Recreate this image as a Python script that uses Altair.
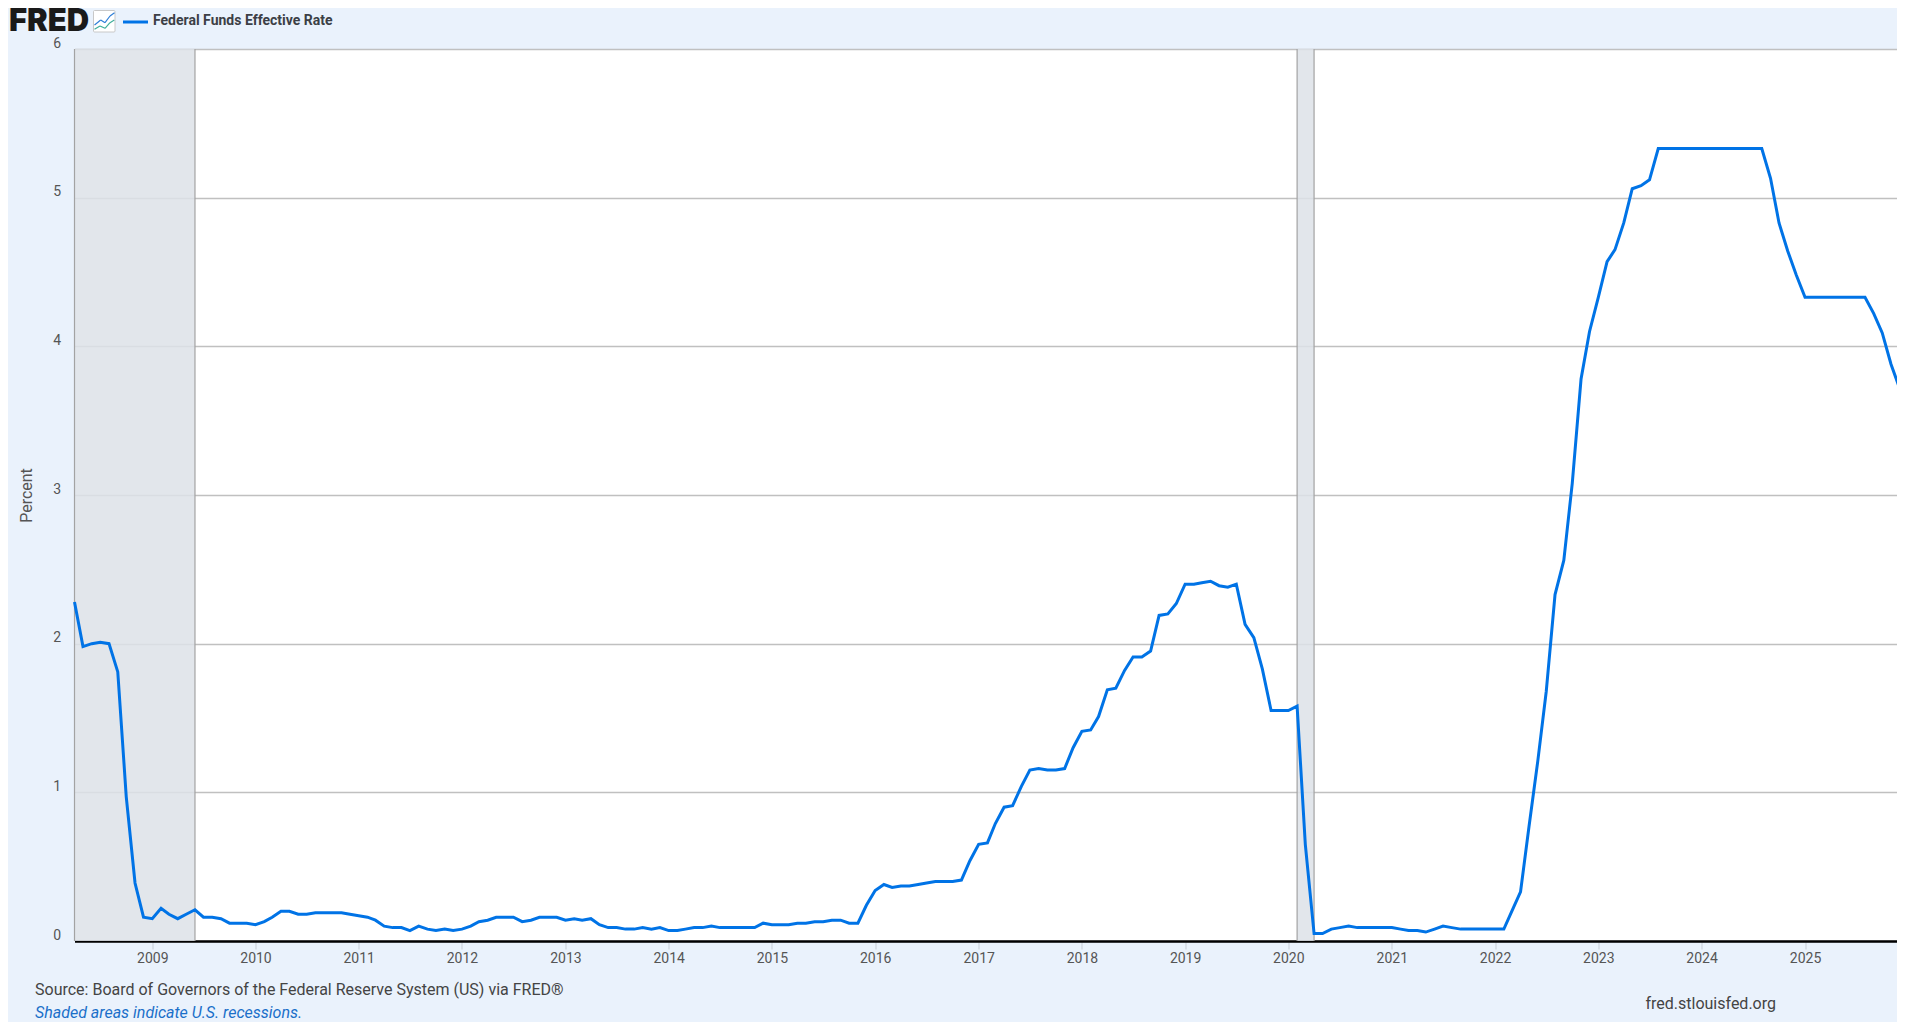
import altair as alt
import pandas as pd

BG = "#eaf2fc"
rates_2008 = [2.28, 1.98, 2.00, 2.01, 2.00, 1.81, 0.97, 0.39, 0.16]
rates_2009 = [0.15, 0.22, 0.18, 0.15, 0.18, 0.21, 0.16, 0.16, 0.15, 0.12, 0.12, 0.12]
rates_2010 = [0.11, 0.13, 0.16, 0.20, 0.20, 0.18, 0.18, 0.19, 0.19, 0.19, 0.19, 0.18]
rates_2011 = [0.17, 0.16, 0.14, 0.10, 0.09, 0.09, 0.07, 0.10, 0.08, 0.07, 0.08, 0.07]
rates_2012 = [0.08, 0.10, 0.13, 0.14, 0.16, 0.16, 0.16, 0.13, 0.14, 0.16, 0.16, 0.16]
rates_2013 = [0.14, 0.15, 0.14, 0.15, 0.11, 0.09, 0.09, 0.08, 0.08, 0.09, 0.08, 0.09]
rates_2014 = [0.07, 0.07, 0.08, 0.09, 0.09, 0.10, 0.09, 0.09, 0.09, 0.09, 0.09, 0.12]
rates_2015 = [0.11, 0.11, 0.11, 0.12, 0.12, 0.13, 0.13, 0.14, 0.14, 0.12, 0.12, 0.24]
rates_2016 = [0.34, 0.38, 0.36, 0.37, 0.37, 0.38, 0.39, 0.40, 0.40, 0.40, 0.41, 0.54]
rates_2017 = [0.65, 0.66, 0.79, 0.90, 0.91, 1.04, 1.15, 1.16, 1.15, 1.15, 1.16, 1.30]
rates_2018 = [1.41, 1.42, 1.51, 1.69, 1.70, 1.82, 1.91, 1.91, 1.95, 2.19, 2.20, 2.27]
rates_2019 = [2.40, 2.40, 2.41, 2.42, 2.39, 2.38, 2.40, 2.13, 2.04, 1.83, 1.55, 1.55]
rates_2020 = [1.55, 1.58, 0.65, 0.05, 0.05, 0.08, 0.09, 0.10, 0.09, 0.09, 0.09, 0.09]
rates_2021 = [0.09, 0.08, 0.07, 0.07, 0.06, 0.08, 0.10, 0.09, 0.08, 0.08, 0.08, 0.08]
rates_2022 = [0.08, 0.08, 0.20, 0.33, 0.77, 1.21, 1.68, 2.33, 2.56, 3.08, 3.78, 4.10]
rates_2023 = [4.33, 4.57, 4.65, 4.83, 5.06, 5.08, 5.12, 5.33, 5.33, 5.33, 5.33, 5.33]
rates_2024 = [5.33, 5.33, 5.33, 5.33, 5.33, 5.33, 5.33, 5.33, 5.13, 4.83, 4.64, 4.48]
rates_2025 = [4.33, 4.33, 4.33, 4.33, 4.33, 4.33, 4.33, 4.33, 4.22, 4.09, 3.88, 3.72]

all_rates = (rates_2008 + rates_2009 + rates_2010 + rates_2011 + rates_2012 + rates_2013
             + rates_2014 + rates_2015 + rates_2016 + rates_2017 + rates_2018 + rates_2019
             + rates_2020 + rates_2021 + rates_2022 + rates_2023 + rates_2024 + rates_2025)
months = pd.date_range("2008-04-01", periods=len(all_rates), freq="MS").strftime("%Y-%m-%dT00:00:00Z")
series = pd.DataFrame({"date": months, "rate": all_rates})

recession_start = ["2008-04-01T00:00:00Z", "2020-02-01T00:00:00Z"]
recession_end = ["2009-06-01T00:00:00Z", "2020-04-01T00:00:00Z"]
bands = pd.DataFrame({"start": recession_start, "end": recession_end})
edges = pd.DataFrame({"date": recession_start + recession_end})

x_scale = alt.Scale(type="utc", domain=["2008-04-01T00:00:00Z", "2025-12-01T00:00:00Z"], nice=False)
y_scale = alt.Scale(domain=[0, 6], nice=False)

x_axis = alt.Axis(
    title=None, format="%Y", tickCount={"interval": "year", "step": 1}, grid=False,
    domainColor="#000000", domainWidth=2.5, tickColor="#c5ccd6", tickSize=8, tickWidth=1,
    labelFont="Roboto", labelFontSize=14, labelColor="#555555", labelPadding=2,
)
y_axis = alt.Axis(
    title="Percent", values=[0, 1, 2, 3, 4, 5, 6], format="d", grid=True, gridColor="#c0c0c0",
    gridWidth=1.4, domain=False, ticks=False, labelOffset=-6, labelPadding=14,
    labelFont="Roboto", labelFontSize=14, labelColor="#555555",
    titleFont="Roboto", titleFontSize=16, titleColor="#555555", titleFontWeight="normal",
    titleX=-40, titleY=446,
)

band = alt.Chart(bands).mark_rect(color="#dde2e7", opacity=0.85).encode(
    x=alt.X("start:T", scale=x_scale, axis=x_axis), x2="end:T"
)
edge = alt.Chart(edges).mark_rule(color="#a3a3a3", strokeWidth=1.2).encode(
    x=alt.X("date:T", scale=x_scale, axis=x_axis)
)
line = alt.Chart(series).mark_line(color="#0073e6", strokeWidth=3).encode(
    x=alt.X("date:T", scale=x_scale, axis=x_axis),
    y=alt.Y("rate:Q", scale=y_scale, axis=y_axis),
)

# absolute page position of the plot area's top-left corner
left, top = 74.5, 49
one = pd.DataFrame({"a": [0]})


def label(text, x, y, size, color, weight="normal", style="normal", align="left", font="Roboto"):
    return alt.Chart(pd.DataFrame({"t": [text]})).mark_text(
        font=font, fontSize=size, color=color, fontWeight=weight, fontStyle=style,
        align=align, baseline="middle",
    ).encode(text="t:N", x=alt.value(x - left), y=alt.value(y - top))


def segment(p, q, color):
    return alt.Chart(one).mark_rule(color=color, strokeWidth=1.2).encode(
        x=alt.value(p[0] - left), y=alt.value(p[1] - top),
        x2=alt.value(q[0] - left), y2=alt.value(q[1] - top),
    )


texts = [
    label("FRED", 9, 22, 31, "#1a1a1a", weight=900, font="Inter"),
    label("Federal Funds Effective Rate", 153, 21, 14, "#3c3f46", weight=700),
    label("Source: Board of Governors of the Federal Reserve System (US) via FRED®", 35, 989.5, 16, "#444444"),
    label("Shaded areas indicate U.S. recessions.", 35, 1012.5, 16, "#1a6fc9", style="italic"),
    label("fred.stlouisfed.org", 1776, 1004, 16, "#444444", align="right"),
]
legend_line = alt.Chart(one).mark_rule(color="#0073e6", strokeWidth=3).encode(
    x=alt.value(123 - left), x2=alt.value(148 - left), y=alt.value(22 - top)
)
icon_box = alt.Chart(one).mark_rect(
    fill="#ffffff", stroke="#c8c8c8", strokeWidth=1, cornerRadius=1
).encode(x=alt.value(93.5 - left), x2=alt.value(115 - left), y=alt.value(10.5 - top), y2=alt.value(32 - top))
icon_blue = [(94.5, 25), (100.7, 20), (105, 22.7), (110, 16), (114.5, 12.7)]
icon_green = [(94.5, 29.3), (100, 26), (105, 28.3), (110, 22.7), (114.3, 20)]
icon = [segment(a, b, "#2f7fd8") for a, b in zip(icon_blue, icon_blue[1:])]
icon += [segment(a, b, "#3fae9a") for a, b in zip(icon_green, icon_green[1:])]

chart = alt.layer(band, edge, line, legend_line, icon_box, *icon, *texts).properties(
    width=1825,
    height=892,
    background=BG,
    padding={"left": 66.5, "top": 41, "right": -2.5, "bottom": 81},
    autosize=alt.AutoSizeParams(type="none"),
).configure_view(stroke=None, fill="#ffffff")

chart.save("out.html", embed_options={"renderer": "svg", "actions": False})
